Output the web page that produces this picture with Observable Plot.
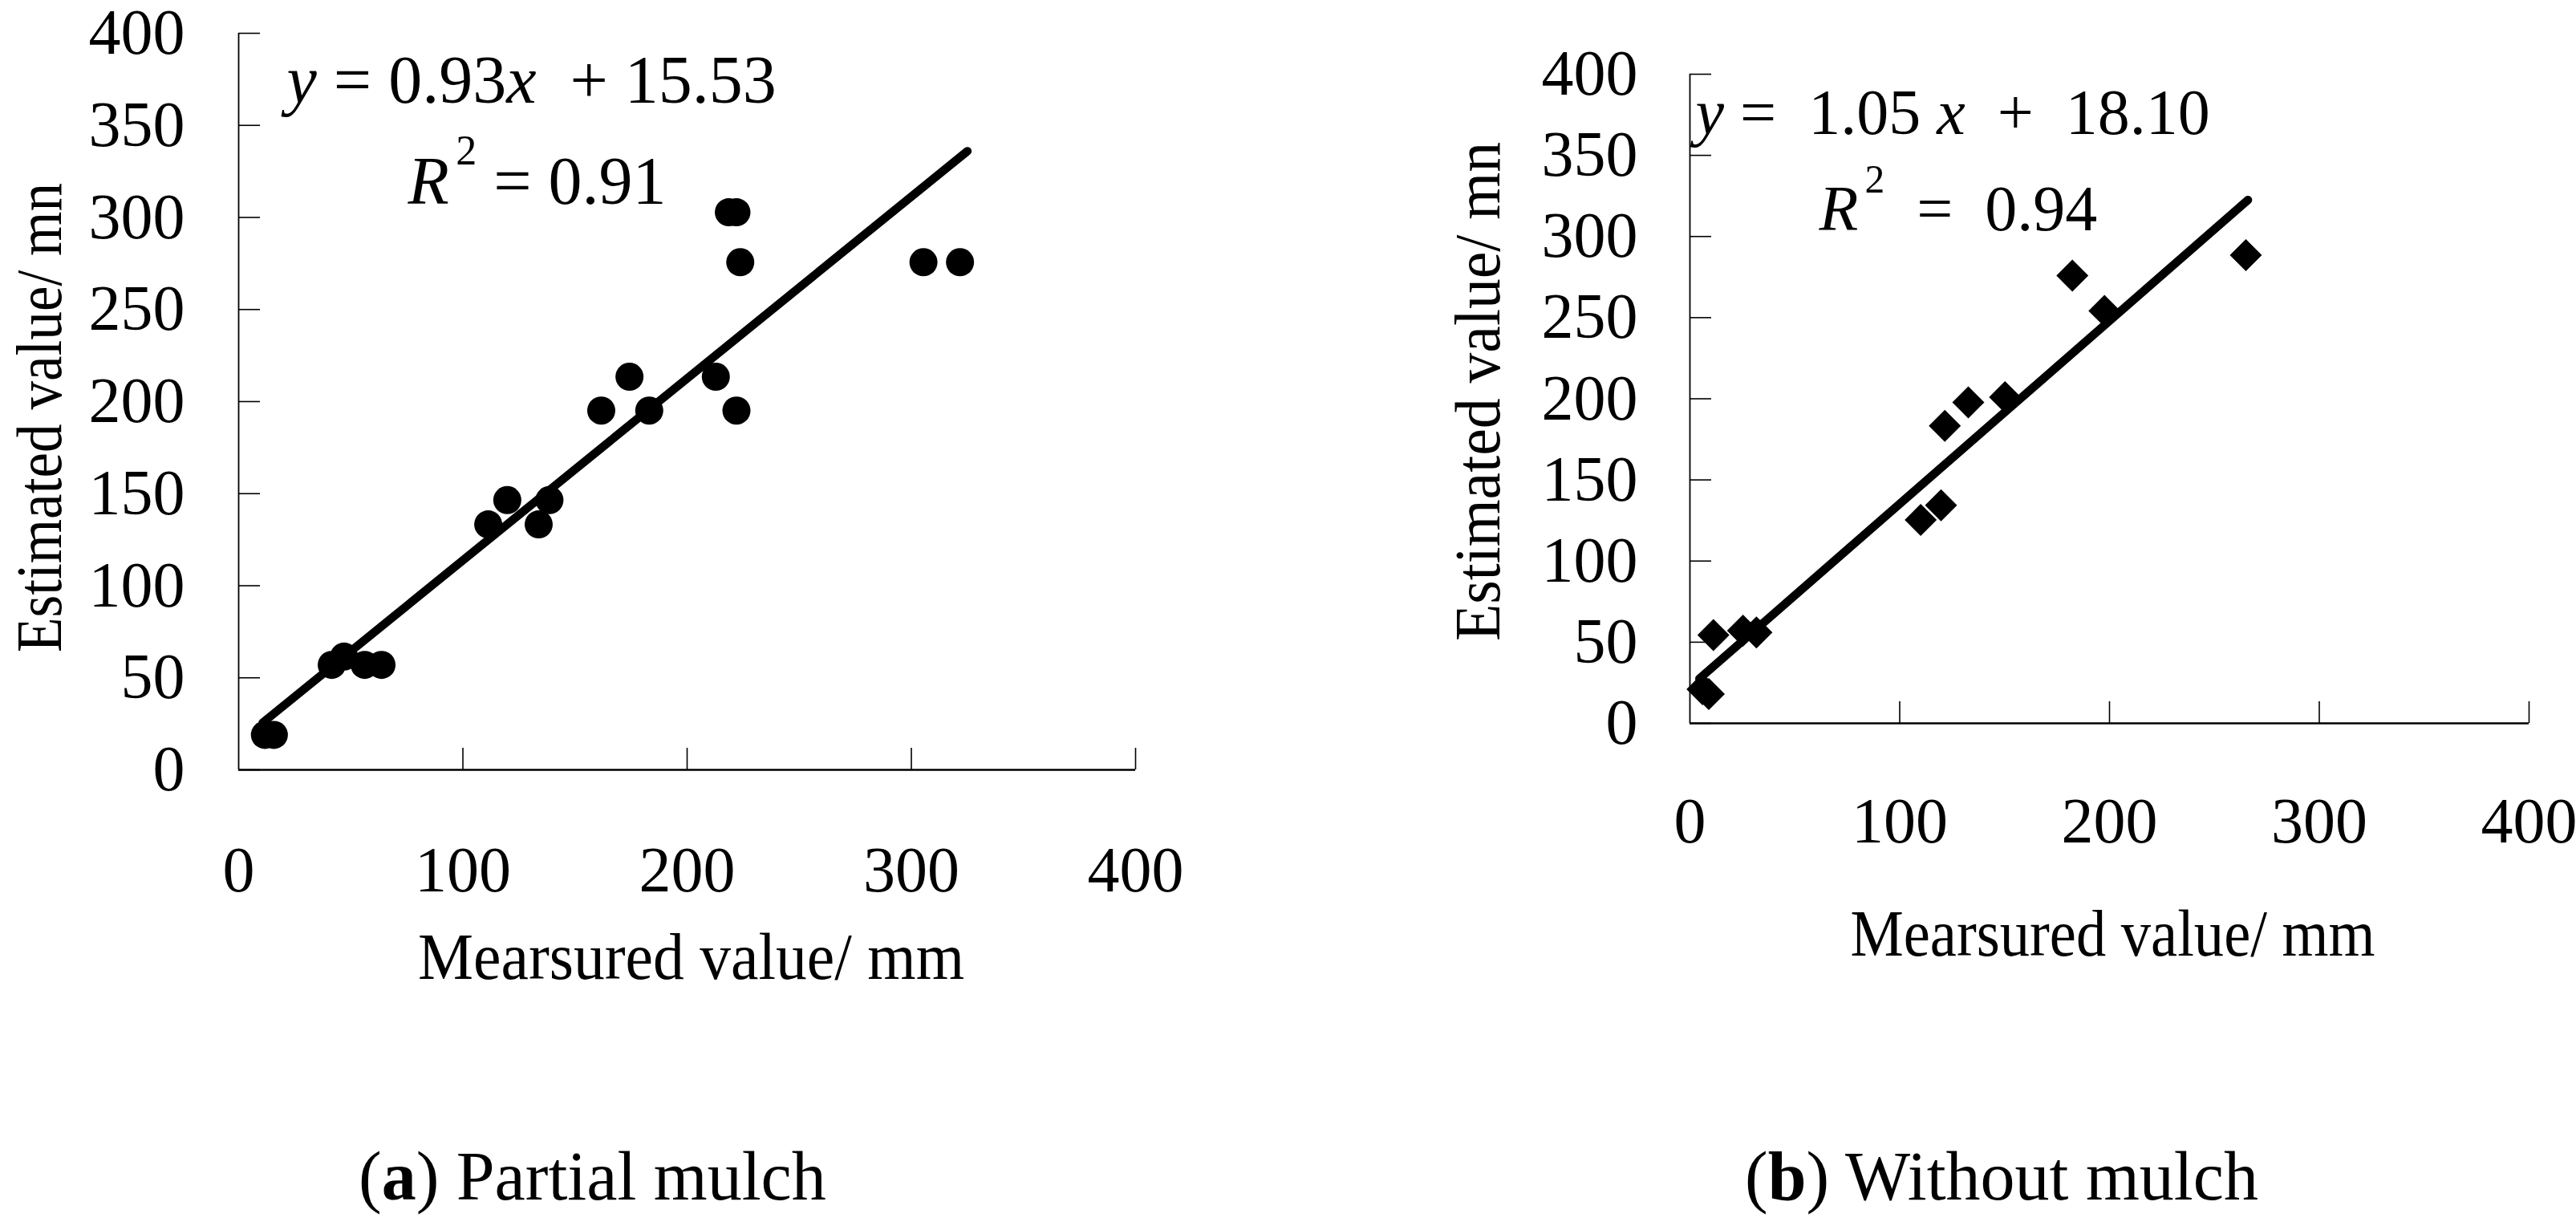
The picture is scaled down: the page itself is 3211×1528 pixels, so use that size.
<!DOCTYPE html>
<html>
<head>
<meta charset="utf-8">
<script src="https://cdn.jsdelivr.net/npm/d3@7"></script>
<script src="https://cdn.jsdelivr.net/npm/@observablehq/plot@0.6"></script>
<style>
  html, body { margin: 0; padding: 0; background: #fff; }
  #root { position: relative; width: 3211px; height: 1528px; background: #fff; overflow: hidden; }
  .panel { position: absolute; top: 0; }
  .cap { position: absolute; font-family: "Liberation Serif", "Times New Roman", serif; font-size: 86px; line-height: 86px; white-space: pre; color: #000; }
</style>
</head>
<body>
<div id="root"></div>
<script>
// ---------- data ----------
const xTicks = [0, 100, 200, 300, 400];
const yTicks = [0, 50, 100, 150, 200, 250, 300, 350, 400];

// (a) Partial mulch: measured vs estimated (circles)
const partialMeasured  = [11.7, 15.7, 41.5, 47, 56.2, 63.7, 111.3, 119.8, 133.8, 138.6, 161.7, 174.3, 183.1, 212.8, 222, 218.6, 222, 223.7, 305.4, 321.7];
const partialEstimated = [19, 19, 57, 61.5, 57, 57, 133.3, 146.5, 133.3, 146.5, 195.1, 213.5, 195.1, 213.5, 195.1, 302.8, 302.8, 275.7, 275.7, 275.7];
// fitted line as drawn
const partialFitX = [10.7, 325];
const partialFitY = [25.6, 336];

// (b) Without mulch: measured vs estimated (diamonds)
const withoutMeasured  = [6, 9, 11.2, 25.3, 31.7, 110, 119.7, 121.5, 132.7, 150.2, 182.3, 197.6, 265];
const withoutEstimated = [21, 18, 54.4, 57.1, 56, 125.3, 134.4, 183.3, 197.8, 201, 275.9, 254.2, 288.5];
const withoutFitX = [4.5, 266];
const withoutFitY = [27.5, 322.5];

const xTitle = "Mearsured value/ mm";
const yTitle = "Estimated value/ mn";
const eqPartial1 = [{t: "y", i: true}, {t: " = 0.93"}, {t: "x", i: true}, {t: "  + 15.53"}];
const eqPartial2 = [{t: "R", i: true}, {t: "2", sup: true}, {t: " = 0.91"}];
const eqWithout1 = [{t: "y", i: true}, {t: " =  1.05 "}, {t: "x", i: true}, {t: "  +  18.10"}];
const eqWithout2 = [{t: "R", i: true}, {t: "2", sup: true}, {t: "  =  0.94"}];
const captionA = ["(", "a", ") Partial mulch"];
const captionB = ["(", "b", ") Without mulch"];

// ---------- helpers ----------
const FONT = "Liberation Serif, Times New Roman, serif";

function zip(xs, ys) { return xs.map((x, i) => ({x, y: ys[i]})); }

function findText(svg, str) {
  return d3.select(svg).selectAll("text").filter(function() { return this.textContent === str; });
}

function richText(svg, frags, size) {
  const t = findText(svg, frags.map(f => f.t).join(""));
  t.text(null).style("white-space", "pre");
  const rise = size * 0.58;
  let shifted = false;
  frags.forEach(f => {
    const s = t.append("tspan").text(f.t);
    if (f.i) s.attr("font-style", "italic");
    if (f.sup) { s.attr("font-size", size * 0.62).attr("dy", -rise).attr("dx", size * 0.1); shifted = true; }
    else if (shifted) { s.attr("dy", rise); shifted = false; }
  });
}

function fitLength(svg, str, len) {
  findText(svg, str).attr("textLength", len).attr("lengthAdjust", "spacingAndGlyphs");
}

function panel(cfg) {
  const pts = zip(cfg.mx, cfg.my);
  const fit = zip(cfg.fx, cfg.fy);
  const svg = Plot.plot({
    width: cfg.width,
    height: cfg.height,
    marginLeft: cfg.ml, marginRight: cfg.mr, marginTop: cfg.mt, marginBottom: cfg.mb,
    style: {fontFamily: FONT, fontSize: "80px", background: "white", overflow: "visible", color: "black"},
    x: {domain: [0, 400], label: null},
    y: {domain: [0, 400], label: null},
    marks: [
      // inward ticks
      Plot.axisY(yTicks, {tickSize: 27, dx: 27, tickFormat: () => "", label: null, strokeWidth: 1.6}),
      Plot.axisX(xTicks.slice(1), {tickSize: 27, dy: -27, tickFormat: () => "", label: null, strokeWidth: 1.6}),
      // tick labels
      Plot.axisY(yTicks, {tickSize: 0, tickPadding: cfg.yPad, label: null, fontSize: 80}),
      Plot.axisX(xTicks, {tickSize: 0, tickPadding: cfg.xPad, label: null, fontSize: 80}),
      // axis lines
      Plot.ruleX([0], {strokeWidth: 1.8}),
      Plot.ruleY([0], {strokeWidth: 2.4}),
      // fitted line
      Plot.line(fit, {x: "x", y: "y", stroke: "black", strokeWidth: 10.5, strokeLinecap: "round"}),
      // observations
      Plot.dot(pts, {x: "x", y: "y", r: cfg.r, symbol: cfg.symbol, fill: "black", stroke: "none"}),
      // axis titles
      Plot.text([xTitle], {frameAnchor: "bottom", dx: cfg.xtDx, dy: cfg.xtDy, textAnchor: "middle", lineAnchor: "bottom", fontSize: 82}),
      Plot.text([yTitle], {frameAnchor: "left", rotate: -90, dx: cfg.ytDx, dy: cfg.ytDy, textAnchor: "middle", lineAnchor: "bottom", fontSize: 80}),
      // equations
      Plot.text([cfg.eq1.map(f => f.t).join("")], {frameAnchor: "top-left", dx: cfg.e1Dx, dy: cfg.e1Dy, textAnchor: "start", lineAnchor: "bottom", fontSize: cfg.eqSize}),
      Plot.text([cfg.eq2.map(f => f.t).join("")], {frameAnchor: "top-left", dx: cfg.e2Dx, dy: cfg.e2Dy, textAnchor: "start", lineAnchor: "bottom", fontSize: cfg.eqSize})
    ]
  });
  richText(svg, cfg.eq1, cfg.eqSize);
  richText(svg, cfg.eq2, cfg.eqSize);
  fitLength(svg, xTitle, cfg.xtLen);
  fitLength(svg, yTitle, cfg.ytLen);
  return svg;
}

const root = document.getElementById("root");

function place(svg, left) {
  const d = document.createElement("div");
  d.className = "panel";
  d.style.left = left + "px";
  d.appendChild(svg);
  root.appendChild(d);
}

place(panel({
  width: 1600, height: 1380, ml: 297, mr: 185, mt: 41, mb: 421,
  mx: partialMeasured, my: partialEstimated, fx: partialFitX, fy: partialFitY,
  r: 17.5, symbol: "circle", yPad: 67, xPad: 95,
  xtDx: 5, xtDy: 260, xtLen: 681, ytDx: -222, ytDy: 20, ytLen: 585,
  eq1: eqPartial1, eq2: eqPartial2, eqSize: 84,
  e1Dx: 60, e1Dy: 86, e2Dx: 211, e2Dy: 212
}), 0);

place(panel({
  width: 1611, height: 1380, ml: 506, mr: 59, mt: 92, mb: 479,
  mx: withoutMeasured, my: withoutEstimated, fx: withoutFitX, fy: withoutFitY,
  r: 18, symbol: "diamond2", yPad: 65, xPad: 92,
  xtDx: 4, xtDy: 289, xtLen: 654, ytDx: -238, ytDy: -9, ytLen: 622,
  eq1: eqWithout1, eq2: eqWithout2, eqSize: 80,
  e1Dx: 7, e1Dy: 74, e2Dx: 161, e2Dy: 194
}), 1600);

function caption(parts, left, top) {
  const d = document.createElement("div");
  d.className = "cap";
  d.style.left = left + "px";
  d.style.top = top + "px";
  d.appendChild(document.createTextNode(parts[0]));
  const b = document.createElement("b");
  b.textContent = parts[1];
  d.appendChild(b);
  d.appendChild(document.createTextNode(parts[2]));
  root.appendChild(d);
}
caption(captionA, 447, 1423);
caption(captionB, 2175, 1423);
</script>
</body>
</html>
